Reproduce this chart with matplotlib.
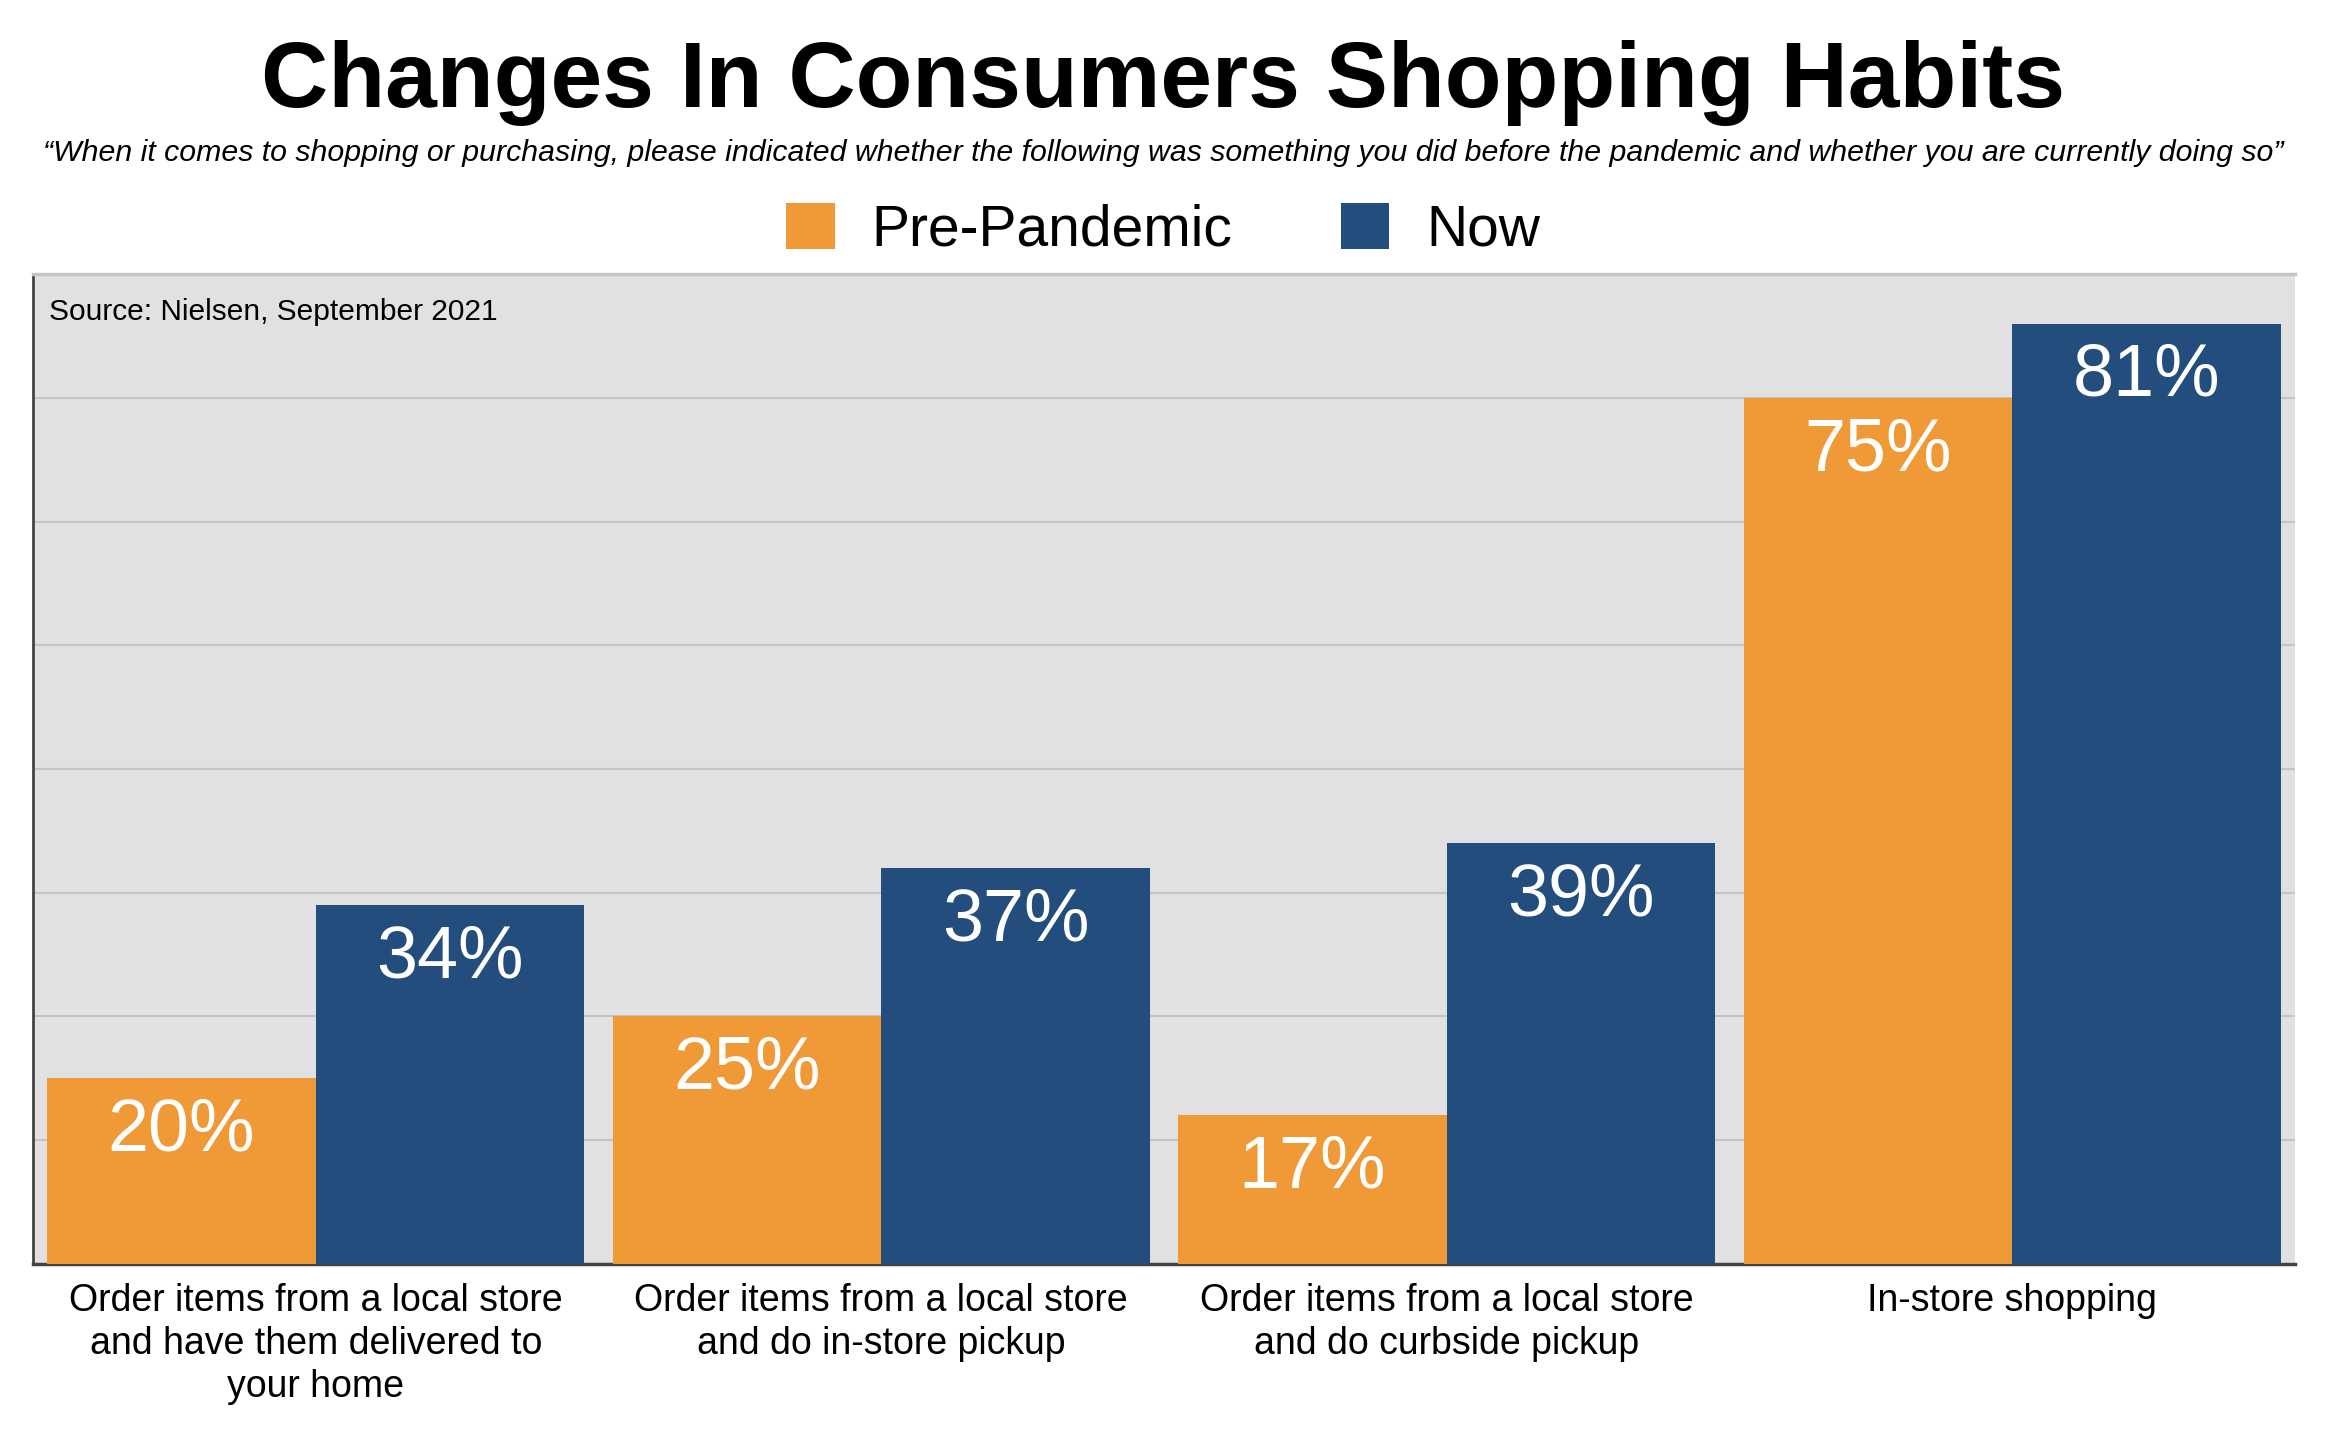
import matplotlib
matplotlib.use("Agg")
import matplotlib.pyplot as plt
import numpy as np

plt.rcParams['font.family'] = ['Liberation Sans', 'DejaVu Sans']

categories = ["Order items from a local store\nand have them delivered to\nyour home",
              "Order items from a local store\nand do in-store pickup",
              "Order items from a local store\nand do curbside pickup",
              "In-store shopping"]
pre_pandemic = [20, 25, 17, 75]
now = [34, 37, 39, 81]

orange = "#ef9a37"
blue = "#234d7c"

fig = plt.figure(figsize=(23.26, 14.5), dpi=100)
ax = fig.add_axes([0.0142, 0.1283, 0.9725, 0.6827])

x = np.arange(len(categories))
w = 0.475
b1 = ax.bar(x - w/2, pre_pandemic, w, color=orange, label="Pre-Pandemic", zorder=3)
b2 = ax.bar(x + w/2, now, w, color=blue, label="Now", zorder=3)

# value labels inside top of bars
for bars, vals in [(b1, pre_pandemic), (b2, now)]:
    for r, v in zip(bars, vals):
        ax.annotate(f"{v}%", (r.get_x() + r.get_width()/2, v),
                    xytext=(0, -38), textcoords="offset points",
                    ha="center", va="center", color="white", fontsize=53, zorder=4)

ax.set_xlim(-0.5, 3.5)
ax.set_ylim(5, 85)
ax.set_facecolor("#e1e1e1")
ax.set_yticks(np.arange(15, 85, 10))
ax.yaxis.grid(True, color="#c4c4c4", linewidth=1.5, zorder=0)
ax.tick_params(axis="y", left=False, labelleft=False)
ax.set_xticks(x)
ax.set_xticklabels(categories, fontsize=27, linespacing=1.25)
ax.tick_params(axis="x", bottom=False, pad=10)

ax.spines["right"].set_visible(False)
ax.spines["top"].set_color("#c4c4c4")
ax.spines["top"].set_linewidth(2.5)
ax.spines["left"].set_color("#444444")
ax.spines["left"].set_linewidth(2)
ax.spines["bottom"].set_color("#444444")
ax.spines["bottom"].set_linewidth(2.5)

ax.text(0.007, 0.962, "Source: Nielsen, September 2021", transform=ax.transAxes,
        fontsize=21.5, va="center", ha="left")

fig.text(0.5, 0.943, "Changes In Consumers Shopping Habits", ha="center", va="center",
         fontsize=67, fontweight="bold")
fig.text(0.5, 0.8945, "\u201cWhen it comes to shopping or purchasing, please indicated whether the following was something you did before the pandemic and whether you are currently doing so\u201d",
         ha="center", va="center", fontsize=21.8, style="italic")

fig.legend(handles=[b1, b2], labels=["Pre-Pandemic", "Now"], loc="center",
           bbox_to_anchor=(0.5, 0.841), ncol=2, frameon=False, fontsize=41,
           handlelength=0.85, handleheight=0.85, handletextpad=0.65, columnspacing=1.9)

fig.savefig("out.png", dpi=100)
